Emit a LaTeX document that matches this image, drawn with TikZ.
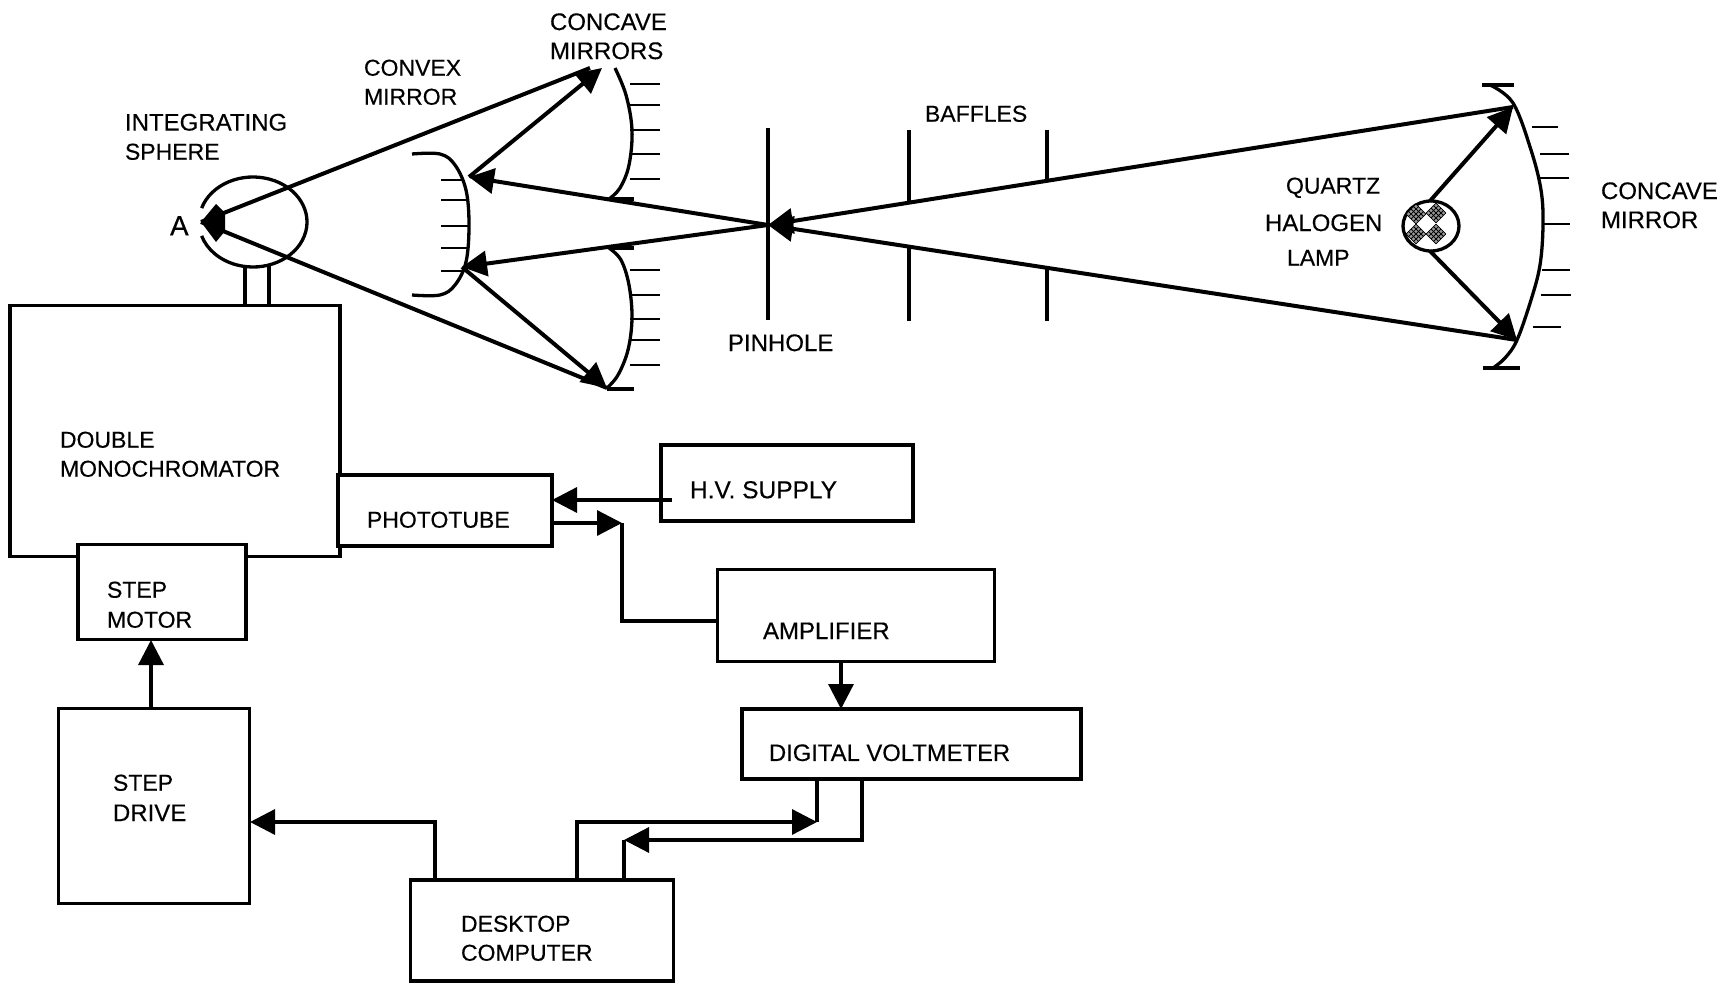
\documentclass[tikz,border=0pt]{standalone}
\usepackage{fontspec}
\setmainfont[FakeBold=0.35]{Liberation Sans}
\usetikzlibrary{arrows.meta}
\tikzset{
  boxn/.style={draw=black,fill=white,line width=3.3pt,inner sep=0pt,outer sep=0pt},
  lbl/.style={anchor=west,inner sep=0pt,outer sep=0pt,yshift=-0.8pt,font=\fontsize{23}{23}\selectfont,text=black},
  big/.style={font=\fontsize{24}{24}\selectfont},
  ray/.style={draw=black,line width=4pt},
  wire/.style={draw=black,line width=3.3pt,line join=miter},
  tip/.style={-{Triangle[length=25pt,width=25pt]}},
  mir/.style={draw=black,line width=3.3pt},
  tick/.style={draw=black,line width=2.8pt},
}
\newcommand{\lampdiamond}[2]{%
  \begin{scope}[shift={(#1,#2)},rotate=45]
    \fill[black!40] (-7,-7) rectangle (7,7);
    \foreach \t in {-7,-3.5,0,3.5,7}{
      \draw[black,line width=0.8pt] (-7,\t) -- (7,\t);
      \draw[black,line width=0.8pt] (\t,-7) -- (\t,7);
    }
  \end{scope}}
\begin{document}
\begin{tikzpicture}[x=1pt,y=-1pt]
\useasboundingbox (0,0) rectangle (1732,984);
\fill[white] (0,0) rectangle (1732,984);

% ---- boxes
\node[boxn,minimum width=330pt,minimum height=251pt] (mono) at (175,431) {};
\node[boxn,minimum width=214pt,minimum height=71pt]  (photo) at (445,510.5) {};
\node[boxn,minimum width=168pt,minimum height=95pt]  (motor) at (162,592) {};
\node[boxn,minimum width=252pt,minimum height=76pt]  (hv) at (787,483) {};
\node[boxn,minimum width=277pt,minimum height=92pt]  (amp) at (856,615.5) {};
\node[boxn,minimum width=339pt,minimum height=70pt]  (dvm) at (911.5,744) {};
\node[boxn,minimum width=191pt,minimum height=195pt] (drive) at (154,806) {};
\node[boxn,minimum width=263pt,minimum height=101pt] (comp) at (542,930.5) {};

% ---- box labels
\node[lbl] (tdouble) at (60,439) {DOUBLE};
\node[lbl] (tmono) at (60,468) {MONOCHROMATOR};
\node[lbl] (tphoto) at (367,519) {PHOTOTUBE};
\node[lbl,font=\fontsize{24.5}{24.5}\selectfont] (thv) at (690,489) {H.V. SUPPLY};
\node[lbl,big] (tamp) at (763,630) {AMPLIFIER};
\node[lbl,font=\fontsize{23.8}{23.8}\selectfont] (tdvm) at (769,752) {DIGITAL VOLTMETER};
\node[lbl] (tstep1) at (107,589) {STEP};
\node[lbl] (tmotor) at (107,619) {MOTOR};
\node[lbl] (tstep2) at (113,782) {STEP};
\node[lbl,big] (tdrive) at (113,812) {DRIVE};
\node[lbl] (tdesk) at (461,923) {DESKTOP};
\node[lbl] (tcomp) at (461,952) {COMPUTER};

% ---- optical labels
\node[lbl,big] (tint) at (125,121.5) {INTEGRATING};
\node[lbl] (tsph) at (125,151) {SPHERE};
\node[lbl] (tconv) at (364,67) {CONVEX};
\node[lbl] (tconvm) at (364,96) {MIRROR};
\node[lbl,big] (tconc) at (550,21) {CONCAVE};
\node[lbl,big] (tconcm) at (550,50) {MIRRORS};
\node[lbl] (tbaf) at (925,113) {BAFFLES};
\node[lbl] (tq) at (1286,187) {QUARTZ};
\node[lbl,big] (th) at (1265,222) {HALOGEN};
\node[lbl] (tl) at (1287,257) {LAMP};
\node[lbl,big] (tcm) at (1601,190) {CONCAVE};
\node[lbl,big] (tcmm) at (1601,219) {MIRROR};
\node[lbl,big] (tpin) at (728,342) {PINHOLE};
\node[lbl,font=\fontsize{28}{28}\selectfont] (ta) at (170,225) {A};

% ---- block connectors
\coordinate (hvin) at (672,500);
\coordinate (phv) at (photo.east |- hvin);
\draw[wire,tip] (hvin) -- (phv);
\coordinate (pout) at (photo.east |- 0,523);
\coordinate (pcorner) at (622,523);
\coordinate (awest) at (amp.west |- 0,621);
\draw[wire] (awest) -- (622,621) -- (pcorner);
\draw[wire,tip] (pout) -- (pcorner);
\coordinate (aout) at (841,662);
\coordinate (dtop) at (841,709);
\draw[wire,tip] (aout) -- (dtop);
\coordinate (ddrv) at (151,709);
\coordinate (dmot) at (151,640);
\draw[wire,tip] (ddrv) -- (dmot);
\coordinate (c1) at (435,880);
\coordinate (dreast) at (250,822);
\draw[wire,tip] (c1) -- (435,822) -- (dreast);
\coordinate (c2) at (577,880);
\coordinate (j1) at (817,822);
\draw[wire,tip] (c2) -- (577,822) -- (j1);
\coordinate (d1) at (817,780);
\draw[wire] (d1) -- (j1);
\coordinate (d2) at (862,780);
\coordinate (j2) at (624,840);
\draw[wire,tip] (d2) -- (862,840) -- (j2);
\coordinate (c3) at (624,880);
\draw[wire] (c3) -- (j2);

% ---- sphere
\coordinate (sc) at (253,222);
\draw[mir] (sc) ++(-162:54 and 45) arc[start angle=-162,end angle=162,x radius=54,y radius=45];
\coordinate (st1) at (245,267);
\coordinate (st2) at (269,266);
\draw[wire] (st1) -- (245,306);
\draw[wire] (st2) -- (269,306);

% ---- convex mirror
\draw[mir] plot[smooth,tension=0.6] coordinates {(412,154) (440,154) (455,165) (466,190) (469,225) (466,262) (455,285) (440,295) (412,295)};
\foreach \yy/\xx in {180/464,200/468,226/469,248/468,271/463}{\draw[tick] (441,\yy) -- (\xx,\yy);}

% ---- upper concave mirror
\draw[mir] plot[smooth,tension=0.6] coordinates {(615,68) (626,95) (632,130) (629,165) (620,188) (609,199)};
\draw[mir] (609,199) -- (634,199);
\foreach \yy in {84,105,130,154,179}{\draw[tick] (630,\yy) -- (660,\yy);}

% ---- lower concave mirror
\draw[mir] plot[smooth,tension=0.6] coordinates {(609,248) (621,260) (629,285) (632,318) (628,350) (618,375) (607,388)};
\draw[mir] (609,248) -- (634,248);
\draw[mir] (607,389) -- (634,389);
\foreach \yy in {270,295,319,340,365}{\draw[tick] (630,\yy) -- (660,\yy);}

% ---- large concave mirror
\draw[mir] plot[smooth,tension=0.6] coordinates {(1490,85) (1513,103) (1531,150) (1541,190) (1543,225) (1540,265) (1531,300) (1517,340) (1505,358) (1493,368)};
\draw[mir] (1482,85) -- (1514,85);
\draw[mir] (1483,368) -- (1520,368);
\foreach \yy/\xa/\xb in {127/1532/1558,154/1540/1569,178/1540/1569,224/1543/1570,270/1542/1570,295/1541/1571,327/1533/1561}{\draw[tick] (\xa,\yy) -- (\xb,\yy);}

% ---- pinhole and baffles
\draw[mir] (768,128) -- (768,320);
\draw[mir] (909,130) -- (909,203);
\draw[mir] (909,247) -- (909,321);
\draw[mir] (1047,130) -- (1047,180);
\draw[mir] (1047,268) -- (1047,321);

% ---- lamp
\coordinate (lc) at (1431,226);
\draw[black,line width=3.3pt,fill=white] (lc) ellipse[x radius=28,y radius=25];
\lampdiamond{1416}{214}
\lampdiamond{1436}{213}
\lampdiamond{1416}{234}
\lampdiamond{1436}{234}

% ---- rays
\coordinate (A) at (201,222);
\coordinate (P) at (768,225);
\coordinate (cxu) at (469,177);
\coordinate (cxl) at (462,267);
\coordinate (cvu) at (602,68);
\coordinate (cvl) at (607,388);
\coordinate (cvu2) at (590,68);
\coordinate (mu) at (1513,107);
\coordinate (ml) at (1517,340);
\coordinate (lu) at (1430,201);
\coordinate (ll) at (1430,251);
\draw[ray] (cvu2) -- (A);
\draw[ray] (cvl) -- (A);
\fill[black] (201,222) -- (216,204) -- (225,213) -- (225,231) -- (216,242) -- cycle;
\draw[ray,tip] (cxu) -- (cvu);
\draw[ray,tip] (cxl) -- (cvl);
\draw[ray,tip] (P) -- (cxu);
\draw[ray,tip] (P) -- (cxl);
\draw[ray,tip] (mu) -- (P);
\draw[ray,tip] (ml) -- (P);
\draw[ray,tip] (lu) -- (mu);
\draw[ray,tip] (ll) -- (ml);
\end{tikzpicture}
\end{document}
